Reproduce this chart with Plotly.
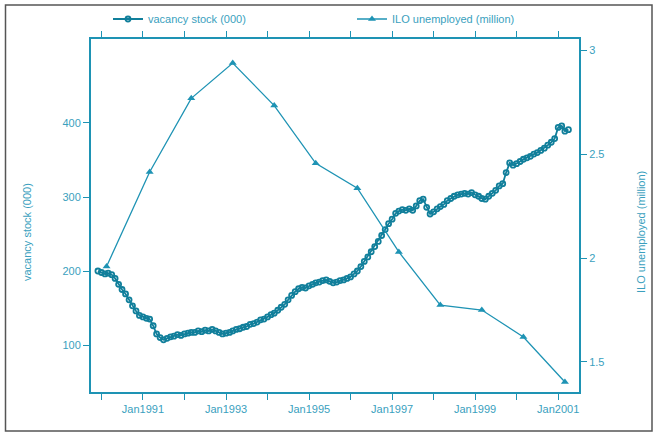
import pandas as pd
import plotly.graph_objects as go

# Vacancy stock (thousands), monthly from Dec 1989
VACANCY_START = "1989-12-01"
vacancy_stock = [
    200,
    198, 196, 197, 195, 190, 182, 175, 169, 161, 153, 146, 140,   # 1990
    138, 136, 135, 126, 115, 110, 107, 109, 111, 112, 114, 113,   # 1991
    115, 116, 117, 117, 119, 118, 120, 119, 121, 119, 117, 115,   # 1992
    116, 117, 119, 121, 122, 124, 125, 128, 129, 131, 134, 135,   # 1993
    138, 141, 143, 147, 151, 155, 161, 167, 172, 176, 178, 177,   # 1994
    180, 182, 184, 185, 187, 188, 186, 184, 185, 187, 188, 190,   # 1995
    192, 196, 200, 206, 213, 219, 226, 233, 240, 248, 256, 264,   # 1996
    270, 278, 281, 283, 282, 284, 282, 288, 295, 297, 286, 277,   # 1997
    280, 284, 287, 290, 295, 298, 301, 303, 304, 305, 304, 306,   # 1998
    303, 301, 298, 297, 301, 305, 309, 315, 318, 333, 346, 343,   # 1999
    345, 348, 351, 353, 355, 358, 360, 363, 366, 370, 374, 379,   # 2000
    394, 396, 389, 391,                                           # 2001
]
vacancy_dates = pd.date_range(VACANCY_START, periods=len(vacancy_stock), freq="MS")

# ILO unemployed (millions), spring of each year
ilo_dates = [
    "1990-02-15", "1991-03-01", "1992-03-01", "1993-03-01", "1994-03-01",
    "1995-03-01", "1996-03-01", "1997-03-01", "1998-03-01", "1999-03-01",
    "2000-03-01", "2001-03-01",
]
ilo_unemployed = [1.96, 2.415, 2.77, 2.94, 2.735, 2.457, 2.337, 2.03, 1.774, 1.75, 1.62, 1.403]

# Year ticks (every January), labelled on odd years
tick_years = list(range(1990, 2002))
tick_dates = [f"{y}-01-01" for y in tick_years]
tick_labels = [f"Jan{y}" if y % 2 == 1 else "" for y in tick_years]

left_ticks = [100, 200, 300, 400]
right_ticks = [1.5, 2, 2.5, 3]
right_tick_labels = ["1.5", "2", "2.5", "3"]

TEAL = "#1e93b4"
MARK = "#117f9b"
TEXT = "#3a9fbe"
FONT = "Liberation Sans"

W, H = 658, 434
L, R, T, B = 91, 79, 39, 42
PW, PH = W - L - R, H - T - B


def px_x(x):
    return (x - L) / PW


def px_y(y):
    return (H - B - y) / PH


fig = go.Figure()
fig.add_trace(go.Scatter(
    x=vacancy_dates, y=vacancy_stock, name="vacancy stock (000)",
    mode="lines+markers", legend="legend",
    line=dict(color=MARK, width=1.8),
    marker=dict(symbol="circle-open", size=5, color=MARK, line=dict(width=1.8, color=MARK)),
))
fig.add_trace(go.Scatter(
    x=pd.to_datetime(ilo_dates), y=ilo_unemployed, name="ILO unemployed (million)",
    mode="lines+markers", yaxis="y2", legend="legend2",
    line=dict(color=TEAL, width=1.3),
    marker=dict(symbol="triangle-up", size=7, color=TEAL),
))

legend_style = dict(
    orientation="h", xanchor="left", yanchor="middle",
    font=dict(family=FONT, size=11, color=TEXT),
    bgcolor="rgba(0,0,0,0)", itemclick=False,
)

fig.update_layout(
    width=W, height=H,
    margin=dict(l=L, r=R, t=T, b=B, pad=0, autoexpand=False),
    paper_bgcolor="white", plot_bgcolor="white",
    font=dict(family=FONT, size=11, color=TEXT),
    showlegend=True,
    legend=dict(x=px_x(108), y=px_y(19), **legend_style),
    legend2=dict(x=px_x(352), y=px_y(19), **legend_style),
    xaxis=dict(
        type="date",
        range=["1989-10-01", "2001-07-03"],
        tickmode="array", tickvals=tick_dates, ticktext=tick_labels,
        ticks="outside", ticklen=6, tickwidth=1.3, tickcolor=TEAL,
        showline=True, linecolor=TEAL, linewidth=2, mirror="ticks",
        showgrid=False, zeroline=False,
        tickfont=dict(size=11, color=TEXT),
    ),
    yaxis=dict(
        range=[36.5, 513.5],
        tickmode="array", tickvals=left_ticks,
        ticks="outside", ticklen=6, tickwidth=1.3, tickcolor=TEAL,
        showline=True, linecolor=TEAL, linewidth=2,
        showgrid=False, zeroline=False,
        tickfont=dict(size=11, color=TEXT),
    ),
    yaxis2=dict(
        overlaying="y", side="right",
        range=[1.355, 3.056],
        tickmode="array", tickvals=right_ticks, ticktext=right_tick_labels,
        ticks="outside", ticklen=6, tickwidth=1.3, tickcolor=TEAL,
        showline=True, linecolor=TEAL, linewidth=2,
        showgrid=False, zeroline=False,
        tickfont=dict(size=11, color=TEXT),
    ),
)

# Axis titles
fig.add_annotation(
    text="vacancy stock (000)", xref="paper", yref="paper",
    x=px_x(27), y=px_y(232), xanchor="center", yanchor="middle",
    textangle=-90, showarrow=False,
    font=dict(family=FONT, size=11, color=TEXT),
)
fig.add_annotation(
    text="ILO unemployed (million)", xref="paper", yref="paper",
    x=px_x(641), y=px_y(232), xanchor="center", yanchor="middle",
    textangle=-90, showarrow=False,
    font=dict(family=FONT, size=11, color=TEXT),
)

# Outer frame
fig.add_shape(
    type="rect", xref="paper", yref="paper",
    x0=px_x(5.5), x1=px_x(652), y0=px_y(431), y1=px_y(5),
    line=dict(color="#555555", width=1.5), fillcolor="rgba(0,0,0,0)", layer="below",
)

fig.write_html("out.html")
